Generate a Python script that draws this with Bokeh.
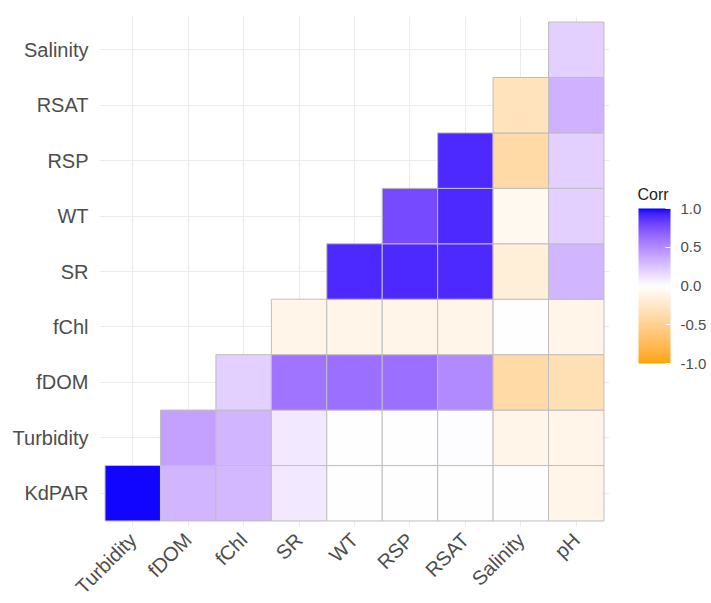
import math

from bokeh.embed import file_html
from bokeh.resources import INLINE
from bokeh.layouts import row
from bokeh.plotting import figure
from bokeh.models import (ColumnDataSource, LinearColorMapper, ColorBar,
                          FixedTicker, PrintfTickFormatter, FactorRange, Label)

# variables on each axis (y listed bottom to top)
x_vars = ["Turbidity", "fDOM", "fChl", "SR", "WT", "RSP", "RSAT", "Salinity", "pH"]
y_vars = ["KdPAR", "Turbidity", "fDOM", "fChl", "SR", "WT", "RSP", "RSAT", "Salinity"]

# lower-triangle correlations, one list per row; row i starts at column i
corr_kdpar = [0.99, 0.32, 0.30, 0.10, 0.00, 0.00, 0.00, 0.00, -0.10]
corr_turbidity = [0.40, 0.32, 0.10, 0.00, 0.00, 0.01, -0.10, -0.10]
corr_fdom = [0.20, 0.60, 0.62, 0.62, 0.50, -0.40, -0.33]
corr_fchl = [-0.10, -0.10, -0.10, -0.10, 0.00, -0.10]
corr_sr = [0.90, 0.90, 0.90, -0.17, 0.32]
corr_wt = [0.78, 0.90, -0.07, 0.20]
corr_rsp = [0.90, -0.40, 0.20]
corr_rsat = [-0.30, 0.33]
corr_salinity = [0.20]

legend_ticks = [-1.0, -0.5, 0.0, 0.5, 1.0]

rows = [corr_kdpar, corr_turbidity, corr_fdom, corr_fchl, corr_sr,
        corr_wt, corr_rsp, corr_rsat, corr_salinity]

xs, ys, vals = [], [], []
for i, (yv, vals_row) in enumerate(zip(y_vars, rows)):
    for j, v in enumerate(vals_row):
        xs.append(x_vars[i + j])
        ys.append(yv)
        vals.append(v)

source = ColumnDataSource(dict(x=xs, y=ys, corr=vals))


# diverging orange - white - blue palette, interpolated in CIE Lab
def _srgb_to_lab(hexcol):
    r, g, b = (int(hexcol[k:k + 2], 16) / 255 for k in (1, 3, 5))

    def lin(c):
        return c / 12.92 if c <= 0.04045 else ((c + 0.055) / 1.055) ** 2.4
    r, g, b = lin(r), lin(g), lin(b)
    X = (0.4124 * r + 0.3576 * g + 0.1805 * b) / 0.95047
    Y = (0.2126 * r + 0.7152 * g + 0.0722 * b)
    Z = (0.0193 * r + 0.1192 * g + 0.9505 * b) / 1.08883

    def f(t):
        return t ** (1 / 3) if t > 0.008856 else 7.787 * t + 16 / 116
    fx, fy, fz = f(X), f(Y), f(Z)
    return (116 * fy - 16, 500 * (fx - fy), 200 * (fy - fz))


def _lab_to_hex(L, a, b):
    fy = (L + 16) / 116
    fx = fy + a / 500
    fz = fy - b / 200

    def finv(t):
        return t ** 3 if t ** 3 > 0.008856 else (t - 16 / 116) / 7.787
    X, Y, Z = 0.95047 * finv(fx), finv(fy), 1.08883 * finv(fz)
    r = 3.2406 * X - 1.5372 * Y - 0.4986 * Z
    g = -0.9689 * X + 1.8758 * Y + 0.0415 * Z
    bb = 0.0557 * X - 0.2040 * Y + 1.0570 * Z

    def gam(c):
        c = min(max(c, 0.0), 1.0)
        return 12.92 * c if c <= 0.0031308 else 1.055 * c ** (1 / 2.4) - 0.055
    return "#%02x%02x%02x" % tuple(int(round(gam(c) * 255)) for c in (r, g, bb))


low_lab = _srgb_to_lab("#FFA500")
mid_lab = _srgb_to_lab("#FFFFFF")
high_lab = _srgb_to_lab("#0000FF")

palette = []
n = 256
for k in range(n):
    v = -1 + 2 * k / (n - 1)
    end = high_lab if v >= 0 else low_lab
    t = abs(v)
    palette.append(_lab_to_hex(*[m + (e - m) * t for m, e in zip(mid_lab, end)]))

mapper = LinearColorMapper(palette=palette, low=-1, high=1)

FONT = "Liberation Sans"
TEXT = "#4D4D4D"

# ---- heat map panel ----
p = figure(
    width=620, height=603,
    x_range=FactorRange(factors=x_vars, range_padding=0.1, range_padding_units="absolute"),
    y_range=FactorRange(factors=y_vars, range_padding=0.1, range_padding_units="absolute"),
    output_backend="svg", toolbar_location=None,
    min_border_left=99, min_border_right=11, min_border_top=16, min_border_bottom=77,
)
p.frame_width = 510
p.frame_height = 510
p.outline_line_color = None
p.background_fill_color = "white"

p.rect(x="x", y="y", width=1, height=1, source=source,
       fill_color={"field": "corr", "transform": mapper},
       line_color="#BEBEBE", line_width=1)

for grid in (p.xgrid, p.ygrid):
    grid.grid_line_color = "#EBEBEB"
    grid.grid_line_width = 1

for ax in (p.xaxis, p.yaxis):
    ax.axis_line_color = None
    ax.major_tick_line_color = None
    ax.minor_tick_line_color = None
    ax.major_tick_out = 0
    ax.major_tick_in = 0
    ax.major_label_text_font = FONT
    ax.major_label_text_font_size = "20px"
    ax.major_label_text_color = TEXT

p.xaxis.major_label_orientation = math.pi / 4
p.xaxis.major_label_standoff = 10
p.yaxis.major_label_standoff = 11

# ---- legend panel (its frame lines up with the heat map frame) ----
leg = figure(
    width=91, height=603, x_range=(0, 1), y_range=(0, 1),
    x_axis_location=None, y_axis_location=None,
    output_backend="svg", toolbar_location=None, min_border=0,
)
leg.outline_line_color = None
leg.grid.visible = False

color_bar = ColorBar(
    color_mapper=mapper,
    ticker=FixedTicker(ticks=legend_ticks),
    formatter=PrintfTickFormatter(format="%.1f"),
    major_label_text_font=FONT, major_label_text_font_size="15px",
    major_label_text_color=TEXT, label_standoff=10,
    major_tick_line_color="white", major_tick_in=5, major_tick_out=0,
    bar_line_color=None, border_line_color=None, background_fill_alpha=0,
    width=32, height=155, padding=0,
    location=(18, 158),
)
leg.add_layout(color_bar, "center")

leg.add_layout(Label(
    x=17, y=327, x_units="screen", y_units="screen", text="Corr",
    text_font=FONT, text_font_size="16px", text_color="#222222",
    text_baseline="alphabetic", text_align="left",
))

open("out.html", "w").write(file_html(row(p, leg), INLINE))
